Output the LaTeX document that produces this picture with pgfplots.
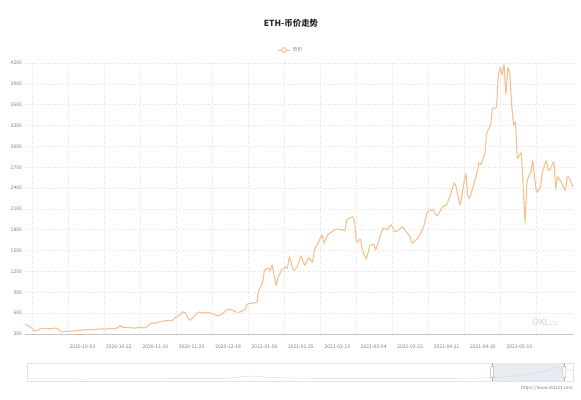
\documentclass[border=0pt]{standalone}
\usepackage{fontspec}
\setmainfont{Noto Sans CJK SC}
\usepackage{pgfplots}
\pgfplotsset{compat=1.18}
\usepackage{pgfplotstable}
\definecolor{ethline}{RGB}{247,192,145}
\definecolor{gridc}{RGB}{226,226,226}
\definecolor{tickc}{RGB}{125,125,125}
\definecolor{slfill}{RGB}{232,236,242}

\pgfplotstableread{
d v
0 440
3 400
5 343
8 372
10 380
13 375
16 385
17 380
19 330
21 335
23 340
26 345
29 355
31 360
34 365
36 360
39 375
42 370
44 380
47 375
50 420
51 395
55 390
57 385
60 395
63 390
65 440
66 460
68 455
70 475
73 490
77 495
78 530
81 575
82 617
84 600
85 530
86 500
88 545
90 600
91 617
93 600
95 612
98 590
99 575
101 560
103 590
104 617
106 660
108 645
110 617
112 615
115 660
116 730
119 745
121 760
122 930
124 1035
125 1220
127 1250
128 1207
129 1290
131 1005
132 1110
134 1220
136 1265
137 1250
138 1410
140 1220
142 1265
144 1420
146 1290
148 1395
150 1335
151 1510
153 1610
155 1725
156 1610
158 1725
160 1770
162 1800
163 1810
165 1800
167 1790
168 1940
171 1985
172 1910
173 1625
175 1660
176 1530
178 1380
180 1570
182 1595
183 1510
185 1680
187 1825
189 1800
191 1870
193 1770
195 1800
197 1840
199 1770
201 1700
202 1610
205 1680
208 1840
210 2055
213 2085
215 2000
218 2130
220 2160
222 2300
224 2475
225 2415
227 2160
228 2300
230 2600
231 2300
232 2255
233 2345
236 2630
237 2760
238 2740
240 2905
241 3190
243 3310
244 3550
246 3565
247 4000
248 4130
249 4030
250 4170
251 3770
252 4130
253 4030
254 3595
255 3310
256 3340
257 2830
259 2905
260 2415
261 1940
262 2490
264 2630
265 2790
266 2545
267 2345
269 2415
270 2620
272 2790
273 2660
274 2660
276 2775
277 2400
278 2560
280 2475
282 2370
283 2560
284 2545
286 2415
}\ethdata

\begin{document}
\begin{tikzpicture}
\path[use as bounding box] (-25bp,-66bp) rectangle (556bp,334bp);
\begin{axis}[
  scale only axis,
  width=548bp, height=271bp,
  xmin=0, xmax=286,
  ymin=300, ymax=4200,
  ytick={300,600,...,4200},
  xtick={30,49,...,258},
  xticklabels={2020-10-03,2020-10-22,2020-11-10,2020-11-29,2020-12-18,2021-01-06,2021-01-25,2021-02-13,2021-03-04,2021-03-23,2021-04-11,2021-04-30,2021-05-19},
  minor xtick={3.7,22.5,41.3,60.1,78.9,97.8,116.6,135.4,154.2,173.0,191.9,210.7,229.5,248.3,267.1},
  ymajorgrids=true,
  xminorgrids=true,
  grid style={gridc, dash pattern=on 1bp off 1.5bp, line width=0.6bp},
  minor grid style={gridc, dash pattern=on 1bp off 1.5bp, line width=0.6bp},
  major tick length=0pt, minor tick length=0pt,
  axis x line*=bottom, axis y line*=left,
  x axis line style={-, draw=gridc!70!gray, line width=0.6bp},
  y axis line style={draw=none},
  /pgf/number format/assume math mode=true,
  /pgf/number format/1000 sep={},
  ticklabel style={font=\fontsize{5}{6}\selectfont, text=tickc},
  xticklabel style={anchor=center, yshift=-13bp},
  yticklabel style={anchor=east, inner sep=0pt, xshift=-3bp},
  legend style={at={(0.5,1)}, anchor=center, yshift=13bp, xshift=-8bp, draw=none, fill=none, font=\fontsize{5}{6}\selectfont, text=tickc, inner sep=1bp},
  legend image code/.code={\draw[#1, line width=1bp] (0bp,0bp) -- (12bp,0bp); \draw[#1, fill=white, line width=1bp] (6bp,0bp) circle (2.3bp);},
  clip=false,
]
\addplot[ethline, line width=1.1bp, no marks, smooth, tension=0.3] table[x=d, y=v] {\ethdata};
\addlegendentry{币价}
\end{axis}
\node[font=\bfseries\fontsize{8.5}{10}\selectfont, text=black!85] at (266bp,311bp) {ETH-币价走势};
\node[font=\fontsize{9}{10}\selectfont, anchor=center] at (520bp,12bp) {{\color{ethline!80}O}{\color{gray!35}KL}{\fontsize{5}{6}\selectfont\color{gray!35}123}};
\node[font=\fontsize{4.5}{5}\selectfont, text=tickc, anchor=east, inner sep=0pt] at (548bp,-54bp) {https://www.okl123.com};
\begin{axis}[
  at={(2bp,-47bp)}, anchor=south west,
  scale only axis, width=546bp, height=18bp,
  xmin=0, xmax=100, ymin=0, ymax=10,
  axis line style={draw=gridc, line width=0.6bp},
  ticks=none, clip=false,
]
\addplot[fill=slfill, draw=none] coordinates {(85.2,0) (85.2,10) (98.4,10) (98.4,0)} \closedcycle;
\addplot[gray!30, line width=0.5bp, no marks] coordinates {(0,1.2) (10,1.1) (20,1.2) (30,1.3) (36,1.5) (39,2.2) (41,2.8) (43,2.3) (46,1.8) (55,1.4) (65,1.3) (75,1.4) (82,1.6) (86,1.9) (89,2.6) (92,3.8) (95,5.5) (97,7.8) (98,6.5) (100,6.0)};
\draw[gray!60, line width=0.5bp] (axis cs:85.2,0) -- (axis cs:85.2,10);
\draw[gray!60, line width=0.5bp] (axis cs:98.4,0) -- (axis cs:98.4,10);
\draw[gray!60, fill=white, rounded corners=0.5bp, line width=0.5bp] ([xshift=-1.5bp]axis cs:85.2,2) rectangle ([xshift=1.5bp]axis cs:85.2,8);
\draw[gray!60, fill=white, rounded corners=0.5bp, line width=0.5bp] ([xshift=-1.5bp]axis cs:98.4,2) rectangle ([xshift=1.5bp]axis cs:98.4,8);
\end{axis}
\end{tikzpicture}
\end{document}
